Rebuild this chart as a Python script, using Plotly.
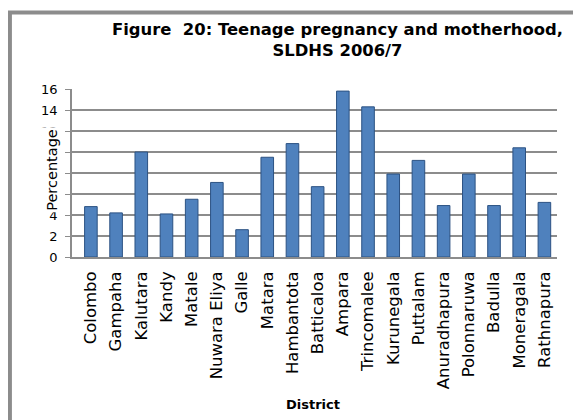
import plotly.graph_objects as go

districts = ['Colombo', 'Gampaha', 'Kalutara', 'Kandy', 'Matale', 'Nuwara Eliya', 'Galle',
             'Matara', 'Hambantota', 'Batticaloa', 'Ampara', 'Trincomalee', 'Kurunegala',
             'Puttalam', 'Anuradhapura', 'Polonnaruwa', 'Badulla', 'Moneragala', 'Rathnapura']
percentage = [4.8, 4.2, 10.0, 4.1, 5.5, 7.1, 2.6, 9.5, 10.8, 6.7, 15.8, 14.3, 7.9, 9.2,
              4.9, 7.9, 4.9, 10.4, 5.2]
y_ticks = [0, 2, 4, 6, 8, 10, 12, 14, 16]

colors = {
    'bar': '#4F81BD',
    'bar_edge': '#2C5283',
    'grid': '#8C8C8C',
    'border': '#8C8C8C',
}

fig = go.Figure(go.Bar(
    x=districts,
    y=percentage,
    width=0.5,
    marker=dict(color=colors['bar'], line=dict(color=colors['bar_edge'], width=1)),
))

# page body has an 8px margin, so the figure is 8px smaller and shifted
# plot area on screen: x 72..557 px, y 89..257 px
fig.update_layout(
    width=573, height=412,
    margin=dict(l=64, r=24, t=81, b=163),
    paper_bgcolor='white',
    plot_bgcolor='white',
    showlegend=False,
    font=dict(family='DejaVu Sans', color='black'),
    xaxis=dict(
        range=[-0.75, 18.5],
        tickangle=-90,
        tickfont=dict(size=16.5, family='DejaVu Sans'),
        ticklabelstandoff=6,
        showline=True, linecolor=colors['grid'], linewidth=1.5,
        ticks='', showgrid=False, automargin=False,
    ),
    yaxis=dict(
        range=[0, 16],
        tickvals=y_ticks,
        tickfont=dict(size=13, family='DejaVu Sans'),
        showline=True, linecolor=colors['grid'], linewidth=1.5,
        ticks='outside', ticklen=5, tickcolor=colors['grid'],
        ticklabelstandoff=5,
        gridcolor=colors['grid'], gridwidth=1.5,
        zeroline=False, automargin=False,
    ),
    annotations=[
        dict(text='<b>Figure  20: Teenage pregnancy and motherhood,<br>SLDHS 2006/7</b>',
             xref='paper', yref='paper', x=0.548, y=1.29, xanchor='center', yanchor='middle',
             showarrow=False, font=dict(family='DejaVu Sans', size=16.4), align='center'),
        dict(text='Percentage', xref='paper', yref='paper', x=-0.043, y=0.52,
             xanchor='center', yanchor='middle', textangle=-90, showarrow=False,
             bgcolor='white', font=dict(family='DejaVu Sans', size=14.5)),
        dict(text='<b>District</b>', xref='paper', yref='paper', x=0.497, y=-0.875,
             xanchor='center', yanchor='middle', showarrow=False,
             font=dict(family='DejaVu Sans', size=13)),
    ],
    shapes=[
        dict(type='rect', xref='paper', yref='paper', x0=-0.128, x1=1.2, y0=-1.2, y1=1.455,
             line=dict(color=colors['border'], width=4), layer='below'),
    ],
)

fig.write_html("out.html")
